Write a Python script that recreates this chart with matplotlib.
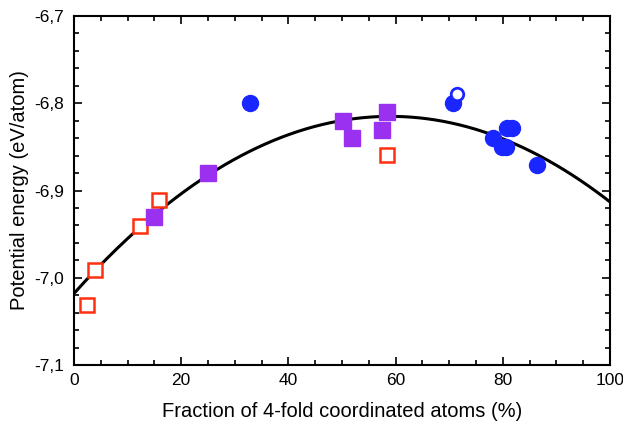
import numpy as np
import matplotlib
matplotlib.use('Agg')
import matplotlib.pyplot as plt
from matplotlib.ticker import MultipleLocator, FuncFormatter

plt.rcParams['font.family'] = ['Liberation Sans', 'DejaVu Sans']

# red open squares
red_x = [2.4, 3.9, 12.3, 15.9, 58.4]
red_y = [-7.031, -6.991, -6.941, -6.911, -6.859]

# purple filled squares
purple_x = [14.9, 25.0, 50.2, 51.9, 57.5, 58.4]
purple_y = [-6.930, -6.880, -6.820, -6.840, -6.831, -6.810]

# blue filled circles
blue_x = [32.8, 70.7, 78.2, 80.8, 81.7, 79.9, 80.6, 86.4]
blue_y = [-6.800, -6.800, -6.840, -6.828, -6.828, -6.850, -6.850, -6.871]

# blue open circle
open_x = [71.5]
open_y = [-6.789]

# quadratic fit (highest power first)
fit_coeffs = [-5.83e-5, 6.88e-3, -7.018]

fig = plt.figure(figsize=(6.23, 4.21), dpi=100)
ax = fig.add_axes([0.1188, 0.133, 0.8602, 0.829])

xs = np.linspace(0, 100, 200)
ax.plot(xs, np.polyval(fit_coeffs, xs), color='black', lw=2.2, zorder=2)

ax.plot(red_x, red_y, 's', ms=10, mfc='white', mec='#ff3010', mew=1.8, zorder=3)
ax.plot(purple_x, purple_y, 's', ms=11, color='#9a30f0', mec='#9a30f0', zorder=3)
ax.plot(blue_x, blue_y, 'o', ms=11.5, color='#1a26ff', zorder=4)
ax.plot(open_x, open_y, 'o', ms=9, mfc='white', mec='#1a26ff', mew=2.0, zorder=5)

ax.set_xlim(0, 100)
ax.set_ylim(-7.1, -6.7)
ax.xaxis.set_major_locator(MultipleLocator(20))
ax.xaxis.set_minor_locator(MultipleLocator(5))
ax.yaxis.set_major_locator(MultipleLocator(0.1))
ax.yaxis.set_minor_locator(MultipleLocator(0.02))
ax.yaxis.set_major_formatter(FuncFormatter(lambda v, p: f'{v:.1f}'.replace('.', ',')))
ax.tick_params(which='both', direction='in', top=True, right=True, labelsize=12.5, width=1.2)
ax.tick_params(which='major', length=6)
ax.tick_params(which='minor', length=3.5)
ax.tick_params(axis='x', pad=6)
ax.tick_params(axis='y', pad=7)
for s in ax.spines.values():
    s.set_linewidth(1.5)

ax.set_xlabel('Fraction of 4-fold coordinated atoms (%)', fontsize=14.5, labelpad=10)
ax.set_ylabel('Potential energy (eV/atom)', fontsize=14.5, labelpad=4)

fig.savefig('out.png', dpi=100)
